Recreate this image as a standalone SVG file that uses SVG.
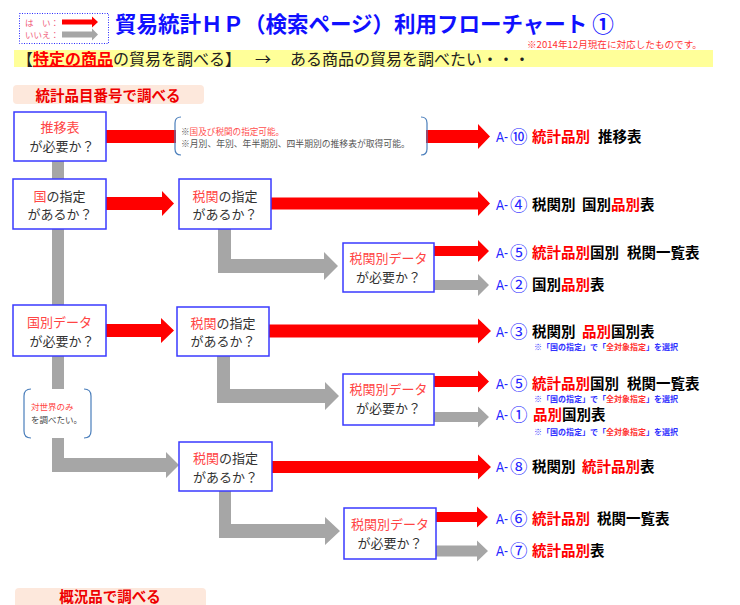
<svg xmlns="http://www.w3.org/2000/svg" width="740" height="605" viewBox="0 0 740 605">
<style>
text{font-family:"Noto Sans CJK JP","Noto Sans CJK SC",sans-serif}
.box{fill:#fff;stroke:#3a3aff;stroke-width:1.5}
.nt{font-size:13px;fill:#333;text-anchor:middle}
.hl{fill:#ff4545}
.red{fill:#ff0000}
.gray{fill:#a6a6a6}
.brk{fill:none;stroke:#4a7ebb;stroke-width:1.2}
.lbl{font-size:14.5px;font-weight:bold;fill:#000}
.rl{fill:#ff0000}
.a{font-family:"Liberation Sans",Arial,sans-serif;font-size:15px;fill:#2424ff}
.num{font-size:17.5px;fill:#2424ff;font-weight:normal}
.note{font-size:8px;fill:#3030ff;font-weight:bold}
.nred{fill:#ff3030}
.peach{fill:#fde8dc}
.sec{font-size:14.5px;font-weight:bold;fill:#ee0000;text-anchor:middle}
</style>

<g id="legend">
  <rect x="19.5" y="13.5" width="89" height="30" fill="none" stroke="#2a2aff" stroke-width="1" stroke-dasharray="1,1.5"/>
  <text x="25" y="26" font-size="8.5" fill="#f05a78">は　い：</text>
  <text x="25" y="38" font-size="8.5" fill="#f05a78">いいえ：</text>
  <polygon class="red" points="62,19.5 92,19.5 92,16.5 98,22 92,27.5 92,24.5 62,24.5"/>
  <polygon class="gray" points="62,31.5 92,31.5 92,28.5 98,34.5 92,40.5 92,37.5 62,37.5"/>
</g>

<g id="title">
  <text x="115" y="31.5" font-size="21.5" font-weight="bold" fill="#1010ff">貿易統計ＨＰ（検索ページ）利用フローチャート ①</text>
  <text x="527" y="48" font-size="9.6" fill="#ff3333">※2014年12月現在に対応したものです。</text>
</g>

<g id="band">
  <rect x="14" y="50" width="699" height="17" fill="#ffff99"/>
  <text x="17" y="64.5" font-size="16" fill="#222">【<tspan fill="#ff0000" font-weight="bold" text-decoration="underline">特定の商品</tspan>の貿易を調べる】</text>
  <text x="255" y="64.5" font-size="16" fill="#222">→</text>
  <text x="290" y="64.5" font-size="16" fill="#222">ある商品の貿易を調べたい・・・</text>
</g>

<g id="section1">
  <rect class="peach" x="13" y="85" width="191" height="19" rx="4"/>
  <text class="sec" x="108" y="100.5">統計品目番号で調べる</text>
</g>
<g id="section2">
  <rect class="peach" x="15" y="588" width="191" height="22" rx="4"/>
  <text class="sec" x="110" y="602">概況品で調べる</text>
</g>

<g id="connectors">
  <polygon class="gray" points="52,161 64,161 64,458 166,458 166,452 179,465 166,478 166,472 52,472"/>
  <polygon class="gray" points="218,229 231,229 231,259 324,259 324,252 338,266 324,280 324,273 218,273"/>
  <polygon class="gray" points="217,356 230,356 230,389 325,389 325,382 339,396 325,410 325,403 217,403"/>
  <polygon class="gray" points="219,491 231,491 231,524 325,524 325,517 340,531 325,545 325,538 219,538"/>
  <polygon class="red" points="106,130 478,130 478,124 490,136.5 478,149 478,143 106,143"/>
  <polygon class="red" points="106,197 162,197 162,191 174,203.5 162,216 162,210 106,210"/>
  <polygon class="red" points="271,197.5 478,197.5 478,191 490,203.5 478,216 478,209.5 271,209.5"/>
  <polygon class="red" points="434,246 478,246 478,240 489,251 478,262 478,256 434,256"/>
  <polygon class="gray" points="434,280 478,280 478,274 489,285 478,296 478,290 434,290"/>
  <polygon class="red" points="106,324 161,324 161,318 174,330.5 161,343 161,337 106,337"/>
  <polygon class="red" points="269,324.5 478,324.5 478,318.5 491,331 478,343.5 478,337.5 269,337.5"/>
  <polygon class="red" points="434,376 478,376 478,370.5 489,381.5 478,392.5 478,387 434,387"/>
  <polygon class="gray" points="434,412 478,412 478,406.5 489,417 478,427.5 478,422 434,422"/>
  <polygon class="red" points="272,461 478,461 478,454.5 491,467 478,479.5 478,473 272,473"/>
  <polygon class="red" points="436,512 477,512 477,506.5 488,517 477,527.5 477,522 436,522"/>
  <polygon class="gray" points="436,545.5 477,545.5 477,540.5 488,551 477,561.5 477,556.5 436,556.5"/>
</g>

<g id="note-suii">
  <rect x="176" y="116" width="250" height="40" fill="#fff"/>
  <path class="brk" d="M181,117 Q175,117 175,123 L175,149 Q175,155 181,155"/>
  <path class="brk" d="M421,117 Q427,117 427,123 L427,149 Q427,155 421,155"/>
  <text x="181" y="135" font-size="8.6" fill="#555">※<tspan fill="#ff5050">国及び税関の指定可能。</tspan></text>
  <text x="181" y="146.5" font-size="8.8" fill="#555">※月別、年別、年半期別、四半期別の推移表が取得可能。</text>
</g>

<g id="n-suii">
  <rect class="box" x="14" y="112" width="92" height="49"/>
  <text class="nt" x="60" y="132"><tspan class="hl">推移表</tspan></text>
  <text class="nt" x="62" y="150.5">が必要か？</text>
</g>
<g id="n-kuni">
  <rect class="box" x="13" y="179" width="93" height="50"/>
  <text class="nt" x="59.5" y="200.5"><tspan class="hl">国</tspan>の指定</text>
  <text class="nt" x="60" y="219">があるか？</text>
</g>
<g id="n-zeikan1">
  <rect class="box" x="179" y="179" width="92" height="50"/>
  <text class="nt" x="225" y="200.5"><tspan class="hl">税関</tspan>の指定</text>
  <text class="nt" x="225" y="219">があるか？</text>
</g>
<g id="n-zdata1">
  <rect class="box" x="343" y="243" width="91" height="49"/>
  <text class="nt" x="388.5" y="263"><tspan class="hl">税関別データ</tspan></text>
  <text class="nt" x="388.5" y="282">が必要か？</text>
</g>
<g id="n-kunidata">
  <rect class="box" x="13" y="305" width="93" height="51"/>
  <text class="nt" x="59.5" y="327"><tspan class="hl">国別データ</tspan></text>
  <text class="nt" x="62" y="346">が必要か？</text>
</g>
<g id="n-zeikan2">
  <rect class="box" x="177" y="307" width="92" height="49"/>
  <text class="nt" x="223" y="327.5"><tspan class="hl">税関</tspan>の指定</text>
  <text class="nt" x="223" y="346">があるか？</text>
</g>
<g id="n-zdata2">
  <rect class="box" x="343" y="374" width="91" height="51"/>
  <text class="nt" x="388.5" y="394"><tspan class="hl">税関別データ</tspan></text>
  <text class="nt" x="388.5" y="412.5">が必要か？</text>
</g>
<g id="n-world">
  <rect x="25" y="389" width="65" height="49" fill="#fff"/>
  <path class="brk" d="M31,389 Q24,389 24,396 L24,431 Q24,438 31,438"/>
  <path class="brk" d="M84,389 Q91,389 91,396 L91,431 Q91,438 84,438"/>
  <text x="31" y="410" font-size="8.5" fill="#ff4545">対世界のみ</text>
  <text x="31" y="423" font-size="8.5" fill="#444">を調べたい。</text>
</g>
<g id="n-zeikan3">
  <rect class="box" x="179" y="442" width="93" height="49"/>
  <text class="nt" x="225.5" y="463"><tspan class="hl">税関</tspan>の指定</text>
  <text class="nt" x="225.5" y="481.5">があるか？</text>
</g>
<g id="n-zdata3">
  <rect class="box" x="344" y="508" width="92" height="51"/>
  <text class="nt" x="390" y="529"><tspan class="hl">税関別データ</tspan></text>
  <text class="nt" x="390" y="547.5">が必要か？</text>
</g>

<g id="r-a10">
  <text class="a" x="496" y="142" textLength="12" lengthAdjust="spacingAndGlyphs">A-</text>
  <text class="num" x="510" y="143">⑩</text>
  <text class="lbl" y="142"><tspan class="rl" x="532">統計品別</tspan><tspan x="598">推移表</tspan></text>
</g>
<g id="r-a4">
  <text class="a" x="496" y="210" textLength="12" lengthAdjust="spacingAndGlyphs">A-</text>
  <text class="num" x="510" y="211">④</text>
  <text class="lbl" y="210"><tspan x="532">税関別</tspan><tspan x="582">国別</tspan><tspan class="rl">品別</tspan>表</text>
</g>
<g id="r-a5a">
  <text class="a" x="496" y="258" textLength="12" lengthAdjust="spacingAndGlyphs">A-</text>
  <text class="num" x="510" y="259">⑤</text>
  <text class="lbl" y="258"><tspan class="rl" x="532">統計品別</tspan>国別<tspan x="627">税関一覧表</tspan></text>
</g>
<g id="r-a2">
  <text class="a" x="496" y="290" textLength="12" lengthAdjust="spacingAndGlyphs">A-</text>
  <text class="num" x="510" y="291">②</text>
  <text class="lbl" y="290"><tspan x="532">国別</tspan><tspan class="rl">品別</tspan>表</text>
</g>
<g id="r-a3">
  <text class="a" x="496" y="337" textLength="12" lengthAdjust="spacingAndGlyphs">A-</text>
  <text class="num" x="510" y="338">③</text>
  <text class="lbl" y="337"><tspan x="532">税関別</tspan><tspan class="rl" x="582">品別</tspan>国別表</text>
  <text class="note" x="534" y="349.5">※「国の指定」で「<tspan class="nred">全対象指定</tspan>」を選択</text>
</g>
<g id="r-a5b">
  <text class="a" x="496" y="389" textLength="12" lengthAdjust="spacingAndGlyphs">A-</text>
  <text class="num" x="510" y="390">⑤</text>
  <text class="lbl" y="389"><tspan class="rl" x="532">統計品別</tspan>国別<tspan x="627">税関一覧表</tspan></text>
  <text class="note" x="534" y="401.5">※「国の指定」で「<tspan class="nred">全対象指定</tspan>」を選択</text>
</g>
<g id="r-a1">
  <text class="a" x="496" y="420" textLength="12" lengthAdjust="spacingAndGlyphs">A-</text>
  <text class="num" x="510" y="421">①</text>
  <text class="lbl" y="420"><tspan class="rl" x="533">品別</tspan>国別表</text>
  <text class="note" x="534" y="435">※「国の指定」で「<tspan class="nred">全対象指定</tspan>」を選択</text>
</g>
<g id="r-a8">
  <text class="a" x="496" y="472" textLength="12" lengthAdjust="spacingAndGlyphs">A-</text>
  <text class="num" x="510" y="473">⑧</text>
  <text class="lbl" y="472"><tspan x="532">税関別</tspan><tspan class="rl" x="582">統計品別</tspan>表</text>
</g>
<g id="r-a6">
  <text class="a" x="496" y="524" textLength="12" lengthAdjust="spacingAndGlyphs">A-</text>
  <text class="num" x="510" y="525">⑥</text>
  <text class="lbl" y="524"><tspan class="rl" x="532">統計品別</tspan><tspan x="597">税関一覧表</tspan></text>
</g>
<g id="r-a7">
  <text class="a" x="496" y="556" textLength="12" lengthAdjust="spacingAndGlyphs">A-</text>
  <text class="num" x="510" y="557">⑦</text>
  <text class="lbl" y="556"><tspan class="rl" x="532">統計品別</tspan>表</text>
</g>
</svg>
